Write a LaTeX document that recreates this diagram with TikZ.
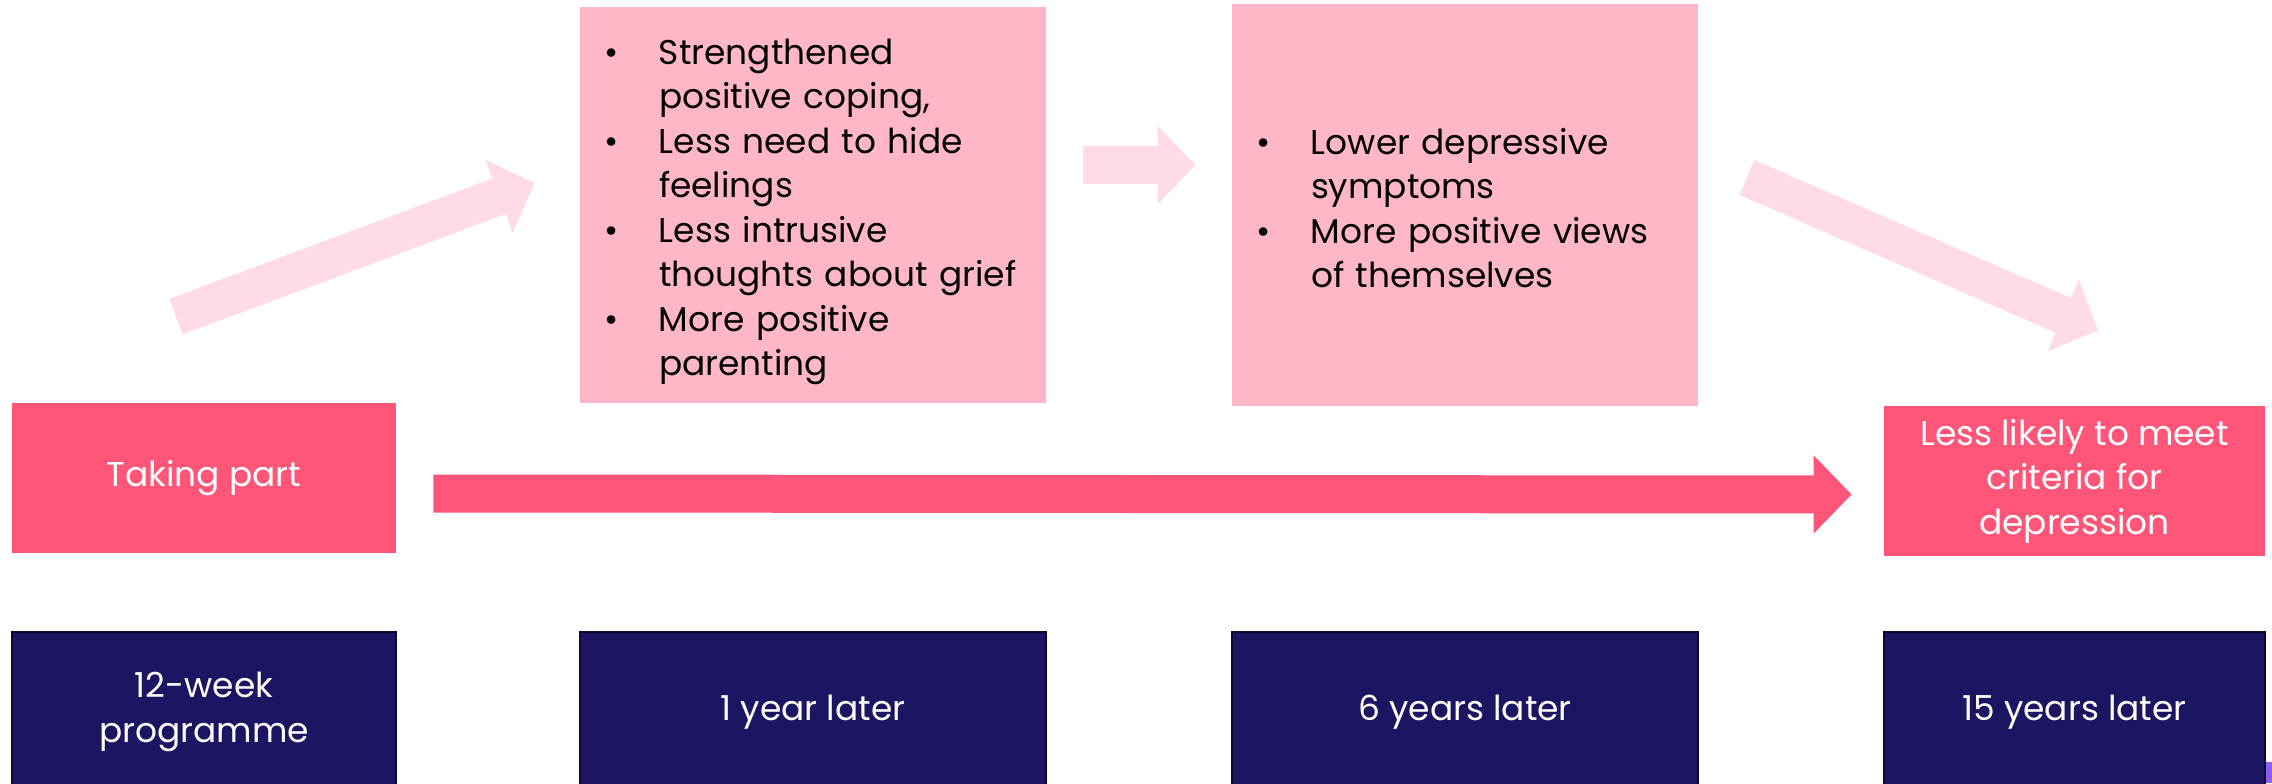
\documentclass[tikz,border=0pt]{standalone}
\usepackage{fontspec}
\setmainfont{Poppins}
\usepackage{tikz}
\usetikzlibrary{arrows.meta}
\usetikzlibrary{positioning}
\definecolor{hotpink}{RGB}{255,85,120}
\definecolor{softpink}{RGB}{255,183,199}
\definecolor{palepink}{RGB}{255,220,227}
\definecolor{navy}{RGB}{28,21,98}
\definecolor{cornermark}{RGB}{140,90,240}

\begin{document}
\begin{tikzpicture}[node distance=3cm,on grid,
        every node/.style={font=\fontsize{17.2}{22.25}\selectfont,inner sep=0pt},
        outcome/.style={fill=hotpink,text=white,align=center,minimum height=75pt},
        timebox/.style={fill=navy,draw=navy!45!black,line width=0.8pt,text=white,align=center,minimum height=80pt},
        listbox/.style={fill=softpink,minimum width=233pt,inner xsep=12pt,text width=209pt,align=left}]
            \useasboundingbox (0,0) rectangle (1136pt,-391.5pt);
            \node[outcome] [minimum width=192pt]   (takepart) at (102pt,-239pt)        {Taking part};
            \node[timebox] [minimum width=192pt]   (week)  [below =117pt of takepart]  {12-week\\programme};
            \node[timebox] [minimum width=233pt]   (yr1)   [right =304.5pt of week]    {1 year later};
            \node[timebox] [minimum width=233pt]   (yr6)   [right =326pt of yr1]       {6 years later};
            \node[timebox] [minimum width=190.5pt] (yr15)  [right =304.75pt of yr6]    {15 years later};
            \node[outcome] [minimum width=190.5pt] (less)  [above =115.5pt of yr15]    {Less likely to meet\\criteria for\\depression};
            \node[listbox] [minimum height=198pt]  (gains) [above =253.5pt of yr1]     {%
                \raisebox{-3pt}[\height][\depth]{%
                \begin{tabular}{@{}p{27.5pt}@{}l@{}}
                \textbullet & Strengthened\\
                            & positive coping,\\
                \textbullet & Less need to hide\\
                            & feelings\\
                \textbullet & Less intrusive\\
                            & thoughts about grief\\
                \textbullet & More positive\\
                            & parenting
                \end{tabular}}};
            \node[listbox] [minimum height=201pt]  (views) [above =253.5pt of yr6]     {%
                \raisebox{-3.5pt}[\height][\depth]{%
                \begin{tabular}{@{}p{27.5pt}@{}l@{}}
                \textbullet & Lower depressive\\
                            & symptoms\\
                \textbullet & More positive views\\
                            & of themselves
                \end{tabular}}};
            \tikzset{fatarrow/.style={-{Triangle[width=38pt,length=19pt]},line width=19pt,draw=palepink}}
            \path ([shift={(-14pt,43pt)}]takepart.north) edge [fatarrow] ([shift={(-22.5pt,11pt)}]gains.west);
            \path ([shift={(18.5pt,20pt)}]gains.east)     edge [fatarrow] ([shift={(-18pt,20pt)}]views.west);
            \path ([shift={(24.25pt,13.75pt)}]views.east) edge [fatarrow] ([shift={(11.75pt,37.5pt)}]less.north);
            \path ([shift={(18.5pt,-7.75pt)}]takepart.east) edge [fatarrow,draw=hotpink] ([shift={(-16pt,-6.75pt)}]less.west);
            \fill[cornermark] (1133pt,-381pt) rectangle (1136pt,-391.5pt);
        \end{tikzpicture}
\end{document}
